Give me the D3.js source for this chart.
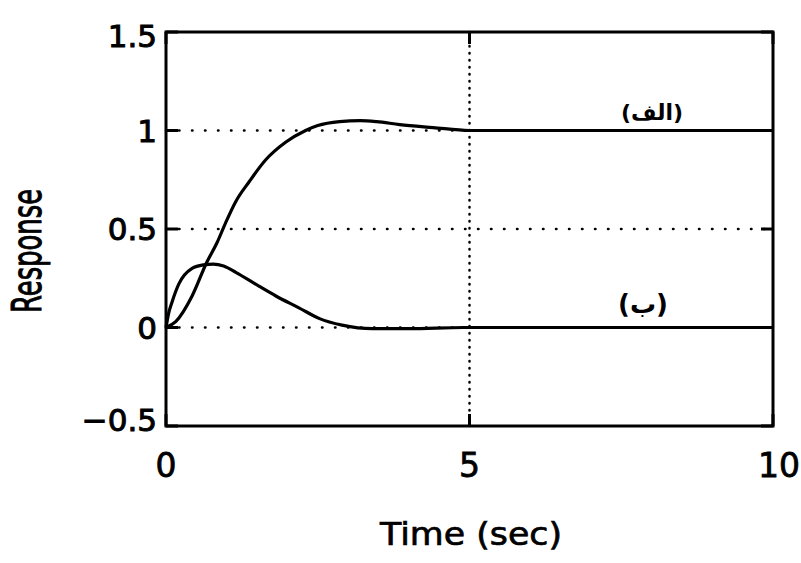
<!DOCTYPE html>
<meta charset="utf-8">
<style>
  body { margin: 0; background: #fff; }
  text { font-family: "DejaVu Sans", sans-serif; fill: #000; }
</style>
<svg width="801" height="563"></svg>
<script src="https://d3js.org/d3.v7.min.js"></script>
<script>

// curve (الف): step-like response
var timeA  = [0, 0.16, 0.43, 0.67, 0.84, 0.98, 1.15, 1.37, 1.64, 1.97, 2.3, 2.5, 2.86, 3.2, 3.47, 3.85, 4.4, 5, 6, 7, 8, 9, 10];
var valueA = [0, 0.03, 0.16, 0.33, 0.43, 0.53, 0.64, 0.74, 0.85, 0.94, 1.0, 1.025, 1.045, 1.05, 1.045, 1.03, 1.015, 1.0, 1.0, 1.0, 1.0, 1.0, 1.0];

// curve (ب): impulse-like response
var timeB  = [0, 0.05, 0.1, 0.21, 0.43, 0.62, 0.78, 0.95, 1.15, 1.53, 1.81, 2.19, 2.53, 2.9, 3.4, 4.0, 4.9, 6, 7, 8, 9, 10];
var valueB = [0, 0.08, 0.13, 0.22, 0.30, 0.318, 0.322, 0.312, 0.28, 0.21, 0.16, 0.10, 0.045, 0.012, -0.006, -0.006, 0, 0, 0, 0, 0, 0];

var xTicks = [0, 5, 10];
var yTicks = [-0.5, 0, 0.5, 1, 1.5];
var yLabels = ["\u22120.5", "0", "0.5", "1", "1.5"];
var xGrid = [5];
var yGrid = [0, 0.5, 1];
var curveNames = ["(الف)", "(ب)"];

var svg = d3.select("svg"),
    pLeft = 166, pRight = 773, pTop = 32, pBottom = 426;

var x = d3.scaleLinear().domain([0, 10]).range([pLeft, pRight]);
var y = d3.scaleLinear().domain([-0.5, 1.5]).range([pBottom, pTop]);

// dotted grid
svg.append("g").selectAll("line")
  .data(yGrid)
  .enter().append("line")
    .attr("x1", pLeft).attr("x2", pRight)
    .attr("y1", y).attr("y2", y)
    .attr("stroke", "#000")
    .attr("stroke-width", 2.5)
    .attr("stroke-linecap", "round")
    .attr("stroke-dasharray", "0.5,12.5");

svg.append("g").selectAll("line")
  .data(xGrid)
  .enter().append("line")
    .attr("x1", x).attr("x2", x)
    .attr("y1", pTop).attr("y2", pBottom)
    .attr("stroke", "#000")
    .attr("stroke-width", 2.5)
    .attr("stroke-linecap", "round")
    .attr("stroke-dasharray", "0.5,6.5");

// inward ticks on all four sides
var tickLen = 12;
var ticks = svg.append("g").attr("stroke", "#000").attr("stroke-width", 3);
yTicks.forEach(function(v) {
  ticks.append("line").attr("x1", pLeft).attr("x2", pLeft + tickLen).attr("y1", y(v)).attr("y2", y(v));
  ticks.append("line").attr("x1", pRight).attr("x2", pRight - tickLen).attr("y1", y(v)).attr("y2", y(v));
});
xTicks.forEach(function(v) {
  ticks.append("line").attr("x1", x(v)).attr("x2", x(v)).attr("y1", pBottom).attr("y2", pBottom - tickLen);
  ticks.append("line").attr("x1", x(v)).attr("x2", x(v)).attr("y1", pTop).attr("y2", pTop + tickLen);
});

// frame
svg.append("rect")
    .attr("x", pLeft).attr("y", pTop)
    .attr("width", pRight - pLeft).attr("height", pBottom - pTop)
    .attr("fill", "none")
    .attr("stroke", "#000")
    .attr("stroke-width", 3);

// curves
var line = d3.line()
    .x(function(d) { return x(d[0]); })
    .y(function(d) { return y(d[1]); })
    .curve(d3.curveMonotoneX);

[d3.zip(timeA, valueA), d3.zip(timeB, valueB)].forEach(function(pts) {
  svg.append("path")
      .datum(pts)
      .attr("d", line)
      .attr("fill", "none")
      .attr("stroke", "#000")
      .attr("stroke-width", 3.2)
      .attr("stroke-linejoin", "round");
});

// tick labels
svg.append("g").selectAll("text")
  .data(yTicks)
  .enter().append("text")
    .attr("x", 157)
    .attr("y", function(d) { return y(d) + (d == 1.5 ? 4 : (d == -0.5 ? -6 : 0)); })
    .attr("dy", "0.36em")
    .attr("text-anchor", "end")
    .attr("font-size", 31)
    .attr("stroke", "#000").attr("stroke-width", 1)
    .text(function(d, i) { return yLabels[i]; });

svg.append("g").selectAll("text")
  .data(xTicks)
  .enter().append("text")
    .attr("x", function(d) { return x(d) + (d == 10 ? 6 : 0); })
    .attr("y", 477)
    .attr("text-anchor", "middle")
    .attr("font-size", 33)
    .attr("stroke", "#000").attr("stroke-width", 0.8)
    .text(function(d) { return d; });

// axis titles
svg.append("text")
    .attr("x", 471).attr("y", 545)
    .attr("text-anchor", "middle")
    .attr("font-size", 32)
    .attr("textLength", 182).attr("lengthAdjust", "spacingAndGlyphs")
    .attr("stroke", "#000").attr("stroke-width", 0.7)
    .text("Time (sec)");

svg.append("text")
    .attr("transform", "translate(41,251)rotate(-90)")
    .attr("text-anchor", "middle")
    .attr("font-size", 40)
    .attr("textLength", 124).attr("lengthAdjust", "spacingAndGlyphs")
    .attr("stroke", "#000").attr("stroke-width", 1)
    .text("Response");

// curve names
svg.append("text")
    .attr("x", 652).attr("y", 120)
    .attr("text-anchor", "middle")
    .attr("font-size", 22).attr("font-weight", "bold")
    .text(curveNames[0]);

svg.append("text")
    .attr("x", 643).attr("y", 313)
    .attr("text-anchor", "middle")
    .attr("font-size", 26).attr("font-weight", "bold")
    .text(curveNames[1]);

</script>
